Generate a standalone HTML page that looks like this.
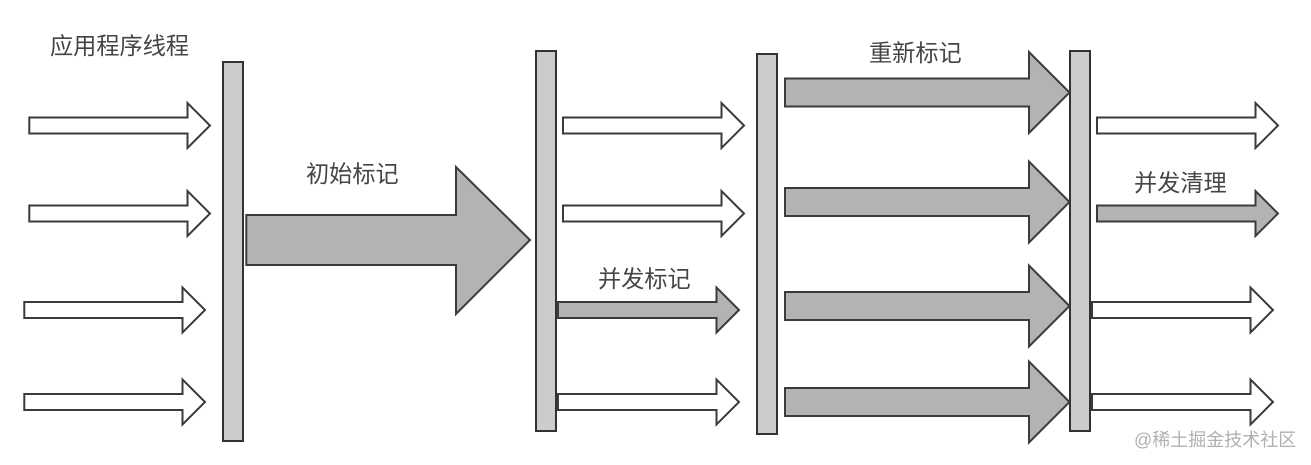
<!DOCTYPE html>
<html lang="zh">
<head>
<meta charset="utf-8">
<title>CMS</title>
<style>
html,body{margin:0;padding:0;background:#fff}
svg{display:block}
text{font-family:"Liberation Sans","Noto Sans CJK SC",sans-serif;font-size:23.2px;fill:#444}
.b{fill:#ccc;stroke:#333;stroke-width:2}
.w{fill:#fff;stroke:#3a3a3a;stroke-width:2}
.g{fill:#b3b3b3;stroke:#3a3a3a;stroke-width:2}
</style>
</head>
<body>
<svg width="1311" height="465" viewBox="0 0 1311 465" xmlns="http://www.w3.org/2000/svg">
<defs><filter id="s" filterUnits="userSpaceOnUse" x="0" y="0" width="1311" height="465"><feGaussianBlur stdDeviation="0.35"/></filter></defs>
<rect width="1311" height="465" fill="#fff"/>
<g filter="url(#s)">
<rect class="b" x="223" y="62" width="20" height="379"/>
<rect class="b" x="536" y="51" width="20" height="380"/>
<rect class="b" x="757" y="54" width="20" height="380"/>
<rect class="b" x="1070" y="51" width="20" height="380"/>

<polygon class="w" points="29.3,117.5 187.5,117.5 187.5,103 210,125.5 187.5,148 187.5,133.5 29.3,133.5"/>
<polygon class="w" points="29.3,205.5 187.5,205.5 187.5,191 210,213.5 187.5,236 187.5,221.5 29.3,221.5"/>
<polygon class="w" points="24.3,302 182.5,302 182.5,287.5 205,310 182.5,332.5 182.5,318 24.3,318"/>
<polygon class="w" points="24.3,394 182.5,394 182.5,379.5 205,402 182.5,424.5 182.5,410 24.3,410"/>

<polygon class="g" points="246.3,215 456,215 456,167 530,240 456,314 456,265 246.3,265"/>

<polygon class="w" points="563,117.5 721.5,117.5 721.5,103 744,125.5 721.5,148 721.5,133.5 563,133.5"/>
<polygon class="w" points="563,205.5 721.5,205.5 721.5,191 744,213.5 721.5,236 721.5,221.5 563,221.5"/>
<polygon class="g" points="558,302 716.5,302 716.5,287.5 739,310 716.5,332.5 716.5,318 558,318"/>
<polygon class="w" points="558,394 716.5,394 716.5,379.5 739,402 716.5,424.5 716.5,410 558,410"/>

<polygon class="g" points="785,78.5 1029,78.5 1029,52 1069.5,92.5 1029,133 1029,106.5 785,106.5"/>
<polygon class="g" points="785,188 1029,188 1029,161.5 1069.5,202 1029,242.5 1029,216 785,216"/>
<polygon class="g" points="785,292 1029,292 1029,265.5 1069.5,306 1029,346.5 1029,320 785,320"/>
<polygon class="g" points="785,388 1029,388 1029,361.5 1069.5,402 1029,442.5 1029,416 785,416"/>

<polygon class="w" points="1097,117.5 1255.5,117.5 1255.5,103 1278,125.5 1255.5,148 1255.5,133.5 1097,133.5"/>
<polygon class="g" points="1097,205.5 1255.5,205.5 1255.5,191 1278,213.5 1255.5,236 1255.5,221.5 1097,221.5"/>
<polygon class="w" points="1092,302 1250.5,302 1250.5,287.5 1273,310 1250.5,332.5 1250.5,318 1092,318"/>
<polygon class="w" points="1092,394 1250.5,394 1250.5,379.5 1273,402 1250.5,424.5 1250.5,410 1092,410"/>

<text x="50" y="54">应用程序线程</text>
<text x="306" y="182">初始标记</text>
<text x="598" y="287">并发标记</text>
<text x="869" y="61">重新标记</text>
<text x="1134" y="191">并发清理</text>
<text x="1134" y="446" style="font-size:18px;fill:#b0b0b0">@稀土掘金技术社区</text>
</g>
</svg>
</body>
</html>
